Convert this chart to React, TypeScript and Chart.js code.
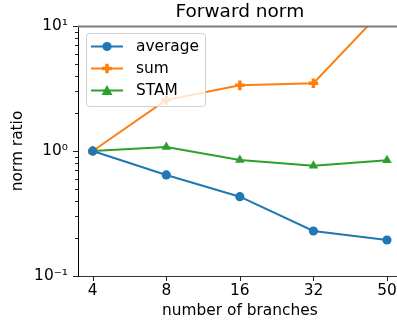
import React, { useEffect, useRef } from "react";
import { Chart, registerables } from "chart.js";

Chart.register(...registerables);

const categories = ["4", "8", "16", "32", "50"];
const averageValues = [1.0, 0.643, 0.431, 0.229, 0.194];
const sumValues = [1.0, 2.56, 3.35, 3.48, 14.5];
const stamValues = [1.0, 1.077, 0.847, 0.763, 0.845];
const yMajorTicks = [0.1, 1, 10];
const yTickLabels: Record<string, string> = { "0.1": "10\u207B\u00B9", "1": "10\u2070", "10": "10\u00B9" };

const FONT = "'DejaVu Sans', sans-serif";
const FS = 15.4;

const toPoints = (vals: number[]) => vals.map((v, i) => ({ x: i, y: v }));

const decorPlugin = {
  id: "decor",
  afterDatasetsDraw(chart: any) {
    const ctx = chart.ctx;
    const { left, right, top, bottom } = chart.chartArea;
    const xs = chart.scales.x;
    const ys = chart.scales.y;
    ctx.save();
    // top spine
    ctx.strokeStyle = "#7a7a7a";
    ctx.lineWidth = 2;
    ctx.beginPath();
    ctx.moveTo(left, top + 0.5);
    ctx.lineTo(right, top + 0.5);
    ctx.stroke();
    // x ticks
    ctx.strokeStyle = "#222";
    ctx.lineWidth = 1;
    categories.forEach((_, i) => {
      const px = Math.round(xs.getPixelForValue(i)) + 0.5;
      ctx.beginPath();
      ctx.moveTo(px, bottom);
      ctx.lineTo(px, bottom + 5);
      ctx.stroke();
    });
    // y ticks
    for (let e = -1; e <= 1; e++) {
      for (let m = 1; m <= 9; m++) {
        const v = m * Math.pow(10, e);
        if (v > 10.0001) continue;
        const py = Math.round(ys.getPixelForValue(v)) + 0.5;
        const len = m === 1 ? 5 : 3;
        ctx.beginPath();
        ctx.moveTo(left - len, py);
        ctx.lineTo(left, py);
        ctx.stroke();
      }
    }
    // legend
    const bx = 86, by = 33, bw = 119, bh = 73, r = 3;
    ctx.fillStyle = "rgba(255,255,255,0.8)";
    ctx.strokeStyle = "#d0d0d0";
    ctx.lineWidth = 1;
    ctx.beginPath();
    ctx.moveTo(bx + r + 0.5, by + 0.5);
    ctx.arcTo(bx + bw + 0.5, by + 0.5, bx + bw + 0.5, by + bh + 0.5, r);
    ctx.arcTo(bx + bw + 0.5, by + bh + 0.5, bx + 0.5, by + bh + 0.5, r);
    ctx.arcTo(bx + 0.5, by + bh + 0.5, bx + 0.5, by + 0.5, r);
    ctx.arcTo(bx + 0.5, by + 0.5, bx + bw + 0.5, by + 0.5, r);
    ctx.closePath();
    ctx.fill();
    ctx.stroke();
    chart.data.datasets.forEach((ds: any, i: number) => {
      const cy = 46.5 + i * 22;
      ctx.strokeStyle = ds.borderColor;
      ctx.lineWidth = 2;
      ctx.beginPath();
      ctx.moveTo(91, cy);
      ctx.lineTo(123, cy);
      ctx.stroke();
      ctx.fillStyle = ds.borderColor;
      ctx.strokeStyle = ds.borderColor;
      const st = ds.pointStyle;
      if (st === "circle") {
        ctx.beginPath();
        ctx.arc(107, cy, 4.6, 0, Math.PI * 2);
        ctx.fill();
      } else if (st === "cross") {
        ctx.lineWidth = 3.5;
        ctx.beginPath();
        ctx.moveTo(107 - 4.8, cy);
        ctx.lineTo(107 + 4.8, cy);
        ctx.moveTo(107, cy - 4.8);
        ctx.lineTo(107, cy + 4.8);
        ctx.stroke();
      } else {
        ctx.beginPath();
        ctx.moveTo(107, cy - 5.5);
        ctx.lineTo(107 + 5.5, cy + 4.5);
        ctx.lineTo(107 - 5.5, cy + 4.5);
        ctx.closePath();
        ctx.fill();
      }
      ctx.fillStyle = "#000";
      ctx.font = `${FS}px ${FONT}`;
      ctx.textAlign = "left";
      ctx.textBaseline = "middle";
      ctx.fillText(ds.label, 136, cy);
    });
    ctx.restore();
  },
};

export default function App() {
  const ref = useRef<HTMLCanvasElement | null>(null);
  useEffect(() => {
    if (!ref.current) return;
    const chart = new Chart(ref.current, {
      type: "line",
      data: {
        datasets: [
          {
            label: "average",
            data: toPoints(averageValues),
            borderColor: "#1f77b4",
            backgroundColor: "#1f77b4",
            pointStyle: "circle",
            pointRadius: 4.6,
            pointBorderWidth: 0,
            borderWidth: 2,
          },
          {
            label: "sum",
            data: toPoints(sumValues),
            borderColor: "#ff7f0e",
            backgroundColor: "#ff7f0e",
            pointStyle: "cross",
            pointRadius: 4.8,
            pointBorderWidth: 3.5,
            borderWidth: 2,
          },
          {
            label: "STAM",
            data: toPoints(stamValues),
            borderColor: "#2ca02c",
            backgroundColor: "#2ca02c",
            pointStyle: "triangle",
            pointRadius: 5.5,
            pointBorderWidth: 0,
            borderWidth: 2,
          },
        ],
      } as any,
      options: {
        animation: false,
        responsive: false,
        devicePixelRatio: 1,
        layout: { padding: { left: 0, right: 8, top: 0, bottom: 0 } },
        plugins: {
          legend: { display: false },
          tooltip: { enabled: false },
          title: {
            display: true,
            fullSize: false,
            text: "Forward norm",
            color: "#000",
            font: { family: FONT, size: 18.5, weight: "normal", lineHeight: "22px" },
            padding: { top: 1, bottom: 3 },
          },
        },
        scales: {
          x: {
            type: "linear",
            min: -0.2,
            max: 4.2,
            grid: { display: false, drawTicks: false, tickLength: 0 },
            border: { display: true, color: "#333", width: 1 },
            afterBuildTicks: (s: any) => {
              s.ticks = categories.map((_, i) => ({ value: i }));
            },
            afterFit: (s: any) => {
              s.height = 46;
            },
            ticks: {
              autoSkip: false,
              maxRotation: 0,
              padding: 6,
              color: "#000",
              font: { family: FONT, size: FS, lineHeight: 1.2 },
              callback: (v: any) => categories[Number(v)] ?? "",
            },
            title: {
              display: true,
              text: "number of branches",
              color: "#000",
              font: { family: FONT, size: FS, lineHeight: 1.2 },
              padding: { top: 0, bottom: 1.7 },
            },
          },
          y: {
            type: "logarithmic",
            min: 0.1,
            max: 10,
            grid: { display: false, drawTicks: false, tickLength: 0 },
            border: { display: true, color: "#000", width: 1 },
            afterBuildTicks: (s: any) => {
              s.ticks = yMajorTicks.map((v) => ({ value: v }));
            },
            afterFit: (s: any) => {
              s.width = 78;
            },
            ticks: {
              autoSkip: false,
              padding: 10,
              color: "#000",
              font: { family: FONT, size: FS, lineHeight: 1.2 },
              callback: (v: any) => yTickLabels[String(v)] ?? "",
            },
            title: {
              display: true,
              text: "norm ratio",
              color: "#000",
              font: { family: FONT, size: FS, lineHeight: 1.2 },
              padding: { top: 8.4, bottom: 0 },
            },
          },
        },
      } as any,
      plugins: [decorPlugin],
    });
    return () => chart.destroy();
  }, []);
  return (
    <div style={{ position: "absolute", left: 0, top: 0, width: 397, height: 322, overflow: "hidden", background: "#fff" }}>
      <canvas ref={ref} width={410} height={322} style={{ display: "block" }} />
    </div>
  );
}
